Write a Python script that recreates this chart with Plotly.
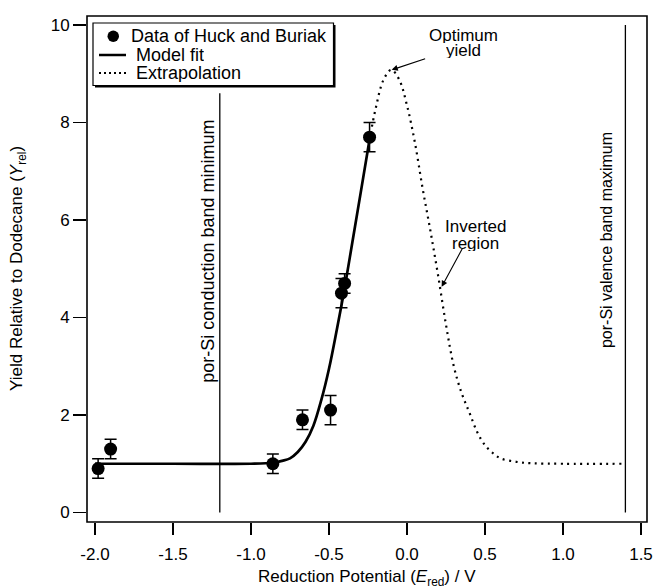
import plotly.graph_objects as go

# ---------------- data ----------------
data_x = [-1.98, -1.90, -0.86, -0.67, -0.49, -0.42, -0.40, -0.24]
data_y = [0.9, 1.3, 1.0, 1.9, 2.1, 4.5, 4.7, 7.7]
data_err = [0.2, 0.2, 0.2, 0.2, 0.3, 0.3, 0.2, 0.3]

fit_x = [-2.0, -1.5, -1.0, -0.86, -0.80, -0.75, -0.70, -0.65, -0.60, -0.55,
         -0.50, -0.45, -0.40, -0.35, -0.30, -0.24]
fit_y = [1.0, 1.0, 1.0, 1.02, 1.06, 1.11, 1.24, 1.45, 1.78, 2.3,
         2.95, 3.75, 4.6, 5.55, 6.5, 7.65]

extra_x = [-0.24, -0.20, -0.15, -0.10, -0.05, 0.00, 0.05, 0.10, 0.15, 0.20,
           0.25, 0.30, 0.35, 0.40, 0.45, 0.50, 0.55, 0.60, 0.70, 0.80, 1.0, 1.38]
extra_y = [7.65, 8.3, 8.88, 9.08, 8.88, 8.35, 7.6, 6.65, 5.78, 4.85,
           3.85, 3.0, 2.45, 2.05, 1.65, 1.38, 1.22, 1.11, 1.04, 1.01, 1.0, 1.0]

band_x = [-1.2, 1.4]
band_top = [8.6, 10.0]
band_labels = ["por-Si conduction band minimum", "por-Si valence band maximum"]

x_ticks = [-2.0, -1.5, -1.0, -0.5, 0.0, 0.5, 1.0, 1.5]
x_ticklabels = ["-2.0", "-1.5", "-1.0", "-0.5", "0.0", "0.5", "1.0", "1.5"]
y_ticks = [0, 2, 4, 6, 8, 10]
y_ticklabels = ["0", "2", "4", "6", "8", "10"]

legend_labels = ["Data of Huck and Buriak", "Model fit", "Extrapolation"]

# ---------------- layout constants ----------------
W, H = 653, 588
L, R, T, B = 87, 6, 16, 66
PW, PH = W - L - R, H - T - B
FONT = "Liberation Sans, Arial, Helvetica, sans-serif"


def pxx(p):
    """page pixel x -> paper fraction"""
    return (p - L) / PW


def pxy(p):
    """page pixel y -> paper fraction"""
    return (T + PH - p) / PH


fig = go.Figure()

# vertical band-edge lines
for bx, bt in zip(band_x, band_top):
    fig.add_trace(go.Scatter(x=[bx, bx], y=[0, bt], mode="lines",
                             line=dict(color="black", width=1.3),
                             showlegend=False, hoverinfo="skip"))

fig.add_trace(go.Scatter(x=fit_x, y=fit_y, mode="lines", line_shape="spline",
                         line=dict(color="black", width=2.7),
                         showlegend=False, name=legend_labels[1]))
fig.add_trace(go.Scatter(x=extra_x, y=extra_y, mode="lines", line_shape="spline",
                         line=dict(color="black", width=2.2, dash="2px,4.5px"),
                         showlegend=False, name=legend_labels[2]))
fig.add_trace(go.Scatter(x=data_x, y=data_y, mode="markers",
                         marker=dict(color="black", size=13),
                         error_y=dict(type="data", array=data_err, visible=True,
                                      color="black", thickness=1.5, width=6),
                         showlegend=False, name=legend_labels[0]))

annotations = []
shapes = []

# plot frame
shapes.append(dict(type="rect", xref="paper", yref="paper", x0=0, x1=1, y0=0, y1=1,
                   line=dict(color="black", width=1.6), fillcolor="rgba(0,0,0,0)",
                   layer="above"))

# band labels (rotated)
annotations.append(dict(x=-1.276, y=5.37, xref="x", yref="y", text=band_labels[0],
                        textangle=-90, showarrow=False,
                        font=dict(size=18, color="black", family=FONT)))
annotations.append(dict(x=1.276, y=5.59, xref="x", yref="y", text=band_labels[1],
                        textangle=-90, showarrow=False,
                        font=dict(size=16, color="black", family=FONT)))

# text annotations
for txt, xx, yy in [("Optimum", 0.359, 9.795), ("yield", 0.359, 9.48),
                    ("Inverted", 0.439, 5.86), ("region", 0.439, 5.51)]:
    annotations.append(dict(x=xx, y=yy, xref="x", yref="y", text=txt,
                            showarrow=False, height=15, valign="middle",
                            font=dict(size=17, color="black", family=FONT)))

# arrows
for tipx, tipy, tx, ty in [(-0.098, 9.08, 0.126, 9.32), (0.222, 4.63, 0.361, 5.45)]:
    annotations.append(dict(x=tipx, y=tipy, ax=tx, ay=ty, xref="x", yref="y",
                            axref="x", ayref="y", text="", showarrow=True,
                            arrowhead=2, arrowsize=1.1, arrowwidth=1.1,
                            arrowcolor="black", standoff=0, startstandoff=0))

# axis titles
annotations.append(dict(x=0.5, y=pxy(578), xref="paper", yref="paper",
                        text="Reduction Potential (<i>E</i><sub>red</sub>) / V",
                        showarrow=False, yanchor="middle",
                        font=dict(size=17, color="black", family=FONT)))
annotations.append(dict(x=pxx(18), y=0.5, xref="paper", yref="paper",
                        text="Yield Relative to Dodecane (<i>Y</i><sub>rel</sub>)",
                        showarrow=False, textangle=-90, xanchor="center",
                        font=dict(size=17, color="black", family=FONT)))

# legend box (manual)
shapes.append(dict(type="rect", xref="paper", yref="paper",
                   x0=pxx(95), x1=pxx(335.5), y0=pxy(87.5), y1=pxy(25),
                   fillcolor="black", line=dict(width=0), layer="above"))
shapes.append(dict(type="rect", xref="paper", yref="paper",
                   x0=pxx(93), x1=pxx(333.5), y0=pxy(85.5), y1=pxy(23),
                   fillcolor="white", line=dict(color="black", width=1.2), layer="above"))
shapes.append(dict(type="circle", xref="paper", yref="paper",
                   x0=pxx(107.5), x1=pxx(119), y0=pxy(42), y1=pxy(30.5),
                   fillcolor="black", line=dict(width=0), layer="above"))
shapes.append(dict(type="line", xref="paper", yref="paper",
                   x0=pxx(99), x1=pxx(126), y0=pxy(55), y1=pxy(55),
                   line=dict(color="black", width=2.5), layer="above"))
shapes.append(dict(type="line", xref="paper", yref="paper",
                   x0=pxx(99), x1=pxx(126), y0=pxy(73), y1=pxy(73),
                   line=dict(color="black", width=1.8, dash="2px,3px"), layer="above"))
for txt, lx, ly in zip(legend_labels, [129, 134, 134], [36.5, 55, 73]):
    annotations.append(dict(x=pxx(lx), y=pxy(ly), xref="paper", yref="paper",
                            text=txt, showarrow=False, xanchor="left", yanchor="middle",
                            height=18, valign="middle",
                            font=dict(size=18, color="black", family=FONT)))

fig.update_layout(
    width=W, height=H,
    margin=dict(l=L, r=R, t=T, b=B, pad=0),
    paper_bgcolor="white", plot_bgcolor="white",
    font=dict(family=FONT, size=17, color="black"),
    showlegend=False,
    annotations=annotations, shapes=shapes,
    xaxis=dict(range=[-2.0513, 1.5385], tickvals=x_ticks, ticktext=x_ticklabels,
               ticks="outside", ticklen=12, tickwidth=1.5, tickcolor="black",
               ticklabelstandoff=5,
               showline=False, showgrid=False, zeroline=False, automargin=False,
               tickfont=dict(size=17, color="black", family=FONT)),
    yaxis=dict(range=[-0.195, 10.185], tickvals=y_ticks, ticktext=y_ticklabels,
               ticks="outside", ticklen=13, tickwidth=1.5, tickcolor="black",
               showline=False, showgrid=False, zeroline=False, automargin=False,
               tickfont=dict(size=17, color="black", family=FONT)),
)

fig.write_html("out.html",
               config={"displayModeBar": False, "staticPlot": True},
               post_script="document.body.style.margin='0';"
                           "document.body.style.overflow='hidden';")
